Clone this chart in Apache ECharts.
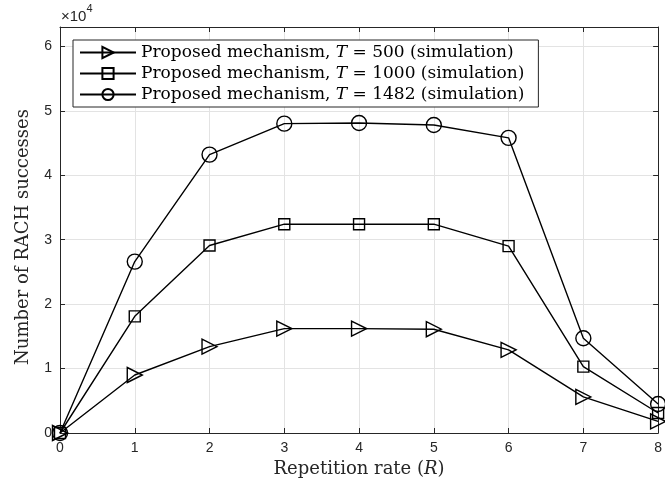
<!DOCTYPE html>
<html>
<head>
<meta charset="utf-8">
<script src="https://cdn.jsdelivr.net/npm/echarts@6/dist/echarts.min.js"></script>
<style>
html, body { margin: 0; padding: 0; background: #fff; }
#chart { width: 665px; height: 487px; }
</style>
</head>
<body>
<div id="chart"></div>
<script>
// repetition rate R on the x axis
const repRate = [0, 1, 2, 3, 4, 5, 6, 7, 8];
const periods = [500, 1000, 1482];
// RACH successes
const succT500 = [0, 9000, 13400, 16200, 16200, 16100, 12900, 5600, 1800];
const succT1000 = [0, 18100, 29100, 32400, 32400, 32400, 29000, 10300, 3100];
const succT1482 = [0, 26600, 43200, 48000, 48100, 47800, 45800, 14700, 4500];
const yTicks = [0, 1, 2, 3, 4, 5, 6];

const serif = '"DejaVu Serif", "Liberation Serif", serif';
const sans = '"Liberation Sans", Arial, sans-serif';

function pairs(vals) {
    return repRate.map((r, i) => [r, vals[i]]);
}

function mkSeries(name, vals, symbol, size, rot) {
    return {
        name: name,
        type: 'line',
        data: pairs(vals),
        symbol: symbol,
        symbolSize: size,
        symbolRotate: rot,
        showAllSymbol: true,
        z: 3,
        lineStyle: {color: '#000', width: 1.4},
        itemStyle: {color: 'transparent', borderColor: '#000', borderWidth: 1.4}
    };
}

let chart = echarts.init(document.getElementById('chart'));

let axisCommon = {
    min: 0,
    axisLine: {show: true, onZero: false, lineStyle: {color: '#262626', width: 1}},
    axisTick: {show: true, inside: true, length: 5, lineStyle: {color: '#262626'}},
};

let option = {
    animation: false,
    backgroundColor: '#fff',
    grid: {left: 60, right: 6, top: 27, bottom: 54, containLabel: false},
    graphic: [{
        type: 'text',
        left: 61,
        top: 3,
        style: {
            text: '{a|×10}{s|4}',
            rich: {
                a: {fontFamily: sans, fontSize: 15, fill: '#262626', padding: [6, 0, 0, 0]},
                s: {fontFamily: sans, fontSize: 11, fill: '#262626', verticalAlign: 'top'}
            }
        }
    }],
    legend: {
        left: 73,
        top: 40,
        orient: 'vertical',
        backgroundColor: '#fff',
        borderColor: '#262626',
        borderWidth: 1,
        padding: [4, 14, 4, 6],
        itemGap: 4,
        itemWidth: 56,
        itemHeight: 14,
        formatter: function (name) {
            let t = periods[['T500', 'T1000', 'T1482'].indexOf(name)];
            return '{a|Proposed mechanism, }{i|T}{a| = ' + t + ' (simulation)}';
        },
        textStyle: {
            rich: {
                a: {fontFamily: serif, fontSize: 17, color: '#000'},
                i: {fontFamily: serif, fontSize: 17, fontStyle: 'italic', color: '#000'}
            }
        }
    },
    xAxis: [
        Object.assign({}, axisCommon, {
            type: 'value', max: 8, interval: 1,
            splitLine: {show: true, lineStyle: {color: '#e3e3e3'}},
            axisLabel: {fontFamily: sans, fontSize: 14, color: '#262626', margin: 8},
            name: '{a|Repetition rate (}{i|R}{a|)}',
            nameLocation: 'middle',
            nameGap: 24,
            nameTextStyle: {
                rich: {
                    a: {fontFamily: serif, fontSize: 18, color: '#262626'},
                    i: {fontFamily: serif, fontSize: 18, fontStyle: 'italic', color: '#262626'}
                }
            }
        }),
        Object.assign({}, axisCommon, {
            type: 'value', max: 8, interval: 1, position: 'top',
            splitLine: {show: false}, axisLabel: {show: false}
        })
    ],
    yAxis: [
        Object.assign({}, axisCommon, {
            type: 'value', max: 63000, interval: 10000,
            splitLine: {show: true, lineStyle: {color: '#e3e3e3'}},
            axisLabel: {
                fontFamily: sans, fontSize: 14, color: '#262626', margin: 8,
                formatter: v => (yTicks.indexOf(v / 10000) >= 0 ? String(v / 10000) : '')
            },
            name: 'Number of RACH successes',
            nameLocation: 'middle',
            nameGap: 28,
            nameTextStyle: {fontFamily: serif, fontSize: 18, color: '#262626', padding: [0, 14, 0, 0]}
        }),
        Object.assign({}, axisCommon, {
            type: 'value', max: 63000, interval: 10000, position: 'right',
            splitLine: {show: false}, axisLabel: {show: false}
        })
    ],
    series: [
        mkSeries('T500', succT500, 'triangle', 15, -90),
        mkSeries('T1000', succT1000, 'rect', 11, 0),
        mkSeries('T1482', succT1482, 'circle', 15, 0)
    ]
};
chart.setOption(option);
</script>
</body>
</html>
